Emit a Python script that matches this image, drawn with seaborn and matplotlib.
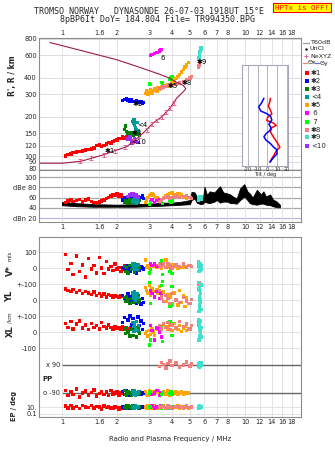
import numpy as np
import pandas as pd
import matplotlib
matplotlib.use("Agg")
import matplotlib.pyplot as plt
from matplotlib.lines import Line2D
from matplotlib.ticker import NullLocator
import seaborn as sns

sns.set_style("white")
plt.rcParams['font.family'] = ['DejaVu Sans']

# --- axes ticks
freq_ticks = [1, 1.6, 2, 3, 4, 5, 6, 7, 8, 10, 12, 14, 16, 18]
freq_labels = ["1", "1.6", "2", "3", "4", "5", "6", "7", "8", "10", "12", "14", "16", "18"]
range_ticks = [80, 90, 100, 120, 150, 200, 300, 400, 600, 800]
db_ticks = [20, 40, 60, 80, 100]
db_labels = ["dBn 20", "40", "60", "dBe 80", "100"]

# --- echo traces: freq (MHz), virtual range (km), amplitude (dB)
red_f = [1.05, 1.08, 1.12, 1.15, 1.2, 1.25, 1.3, 1.35, 1.4, 1.45, 1.5, 1.55, 1.6, 1.65,
         1.7, 1.75, 1.8, 1.85, 1.9, 1.95, 2.0, 2.05, 2.1, 2.15, 2.2, 2.25, 2.3, 2.38]
red_r = [100, 103, 104, 106, 107, 108, 109, 111, 112, 113, 115, 120, 122, 118,
         121, 124, 127, 126, 130, 132, 133, 136, 137, 140, 138, 141, 143, 147]
red_db = [50, 53, 55, 52, 54, 56, 51, 55, 57, 52, 50, 49, 51, 53,
          55, 58, 60, 63, 66, 64, 67, 62, 65, 60, 58, 57, 55, 54]
blue_f = [2.15, 2.2, 2.25, 2.3, 2.35, 2.4, 2.45, 2.5, 2.55, 2.6, 2.65, 2.7, 2.75, 2.8]
blue_r = [268, 272, 275, 270, 266, 270, 264, 262, 265, 260, 258, 262, 256, 258]
blue_db = [55, 60, 58, 62, 56, 60, 54, 58, 62, 57, 55, 60, 63, 58]
green_f = [2.2, 2.22, 2.25, 2.3, 2.35, 2.4, 2.45, 2.5, 2.55, 2.6, 2.62, 2.65]
green_r = [160, 170, 155, 150, 148, 152, 145, 150, 147, 152, 146, 145]
green_db = [50, 54, 52, 48, 55, 51, 53, 49, 56, 52, 50, 54]
teal_f = [2.45, 2.47, 2.48, 2.5, 2.52, 2.55, 2.58, 2.62]
teal_r = [185, 178, 190, 172, 165, 160, 182, 158]
teal_db = [52, 50, 55, 51, 54, 49, 53, 50]
orange_f = [2.85, 2.9, 2.95, 3.0, 3.05, 3.1, 3.15, 3.2, 3.3, 3.35, 3.4, 3.5, 3.6, 3.7,
            3.8, 3.9, 4.0, 4.1, 4.2, 4.3, 4.4, 4.5, 4.6, 4.7, 4.8, 4.9]
orange_r = [305, 318, 300, 312, 325, 305, 320, 330, 315, 335, 325, 340, 345, 350,
            355, 345, 365, 380, 395, 410, 425, 445, 465, 485, 505, 525]
orange_db = [50, 55, 60, 64, 66, 68, 65, 62, 60, 58, 56, 55, 60, 63,
             65, 68, 70, 66, 64, 67, 68, 65, 62, 60, 58, 60]
magenta_f = [3.05, 3.1, 3.2, 3.3, 3.4, 3.45, 3.5]
magenta_r = [598, 605, 615, 630, 645, 655, 660]
magenta_db = [52, 55, 50, 54, 56, 51, 53]
lime_f = [3.0, 3.05, 3.5, 3.55, 3.9, 3.95, 4.0]
lime_r = [360, 355, 370, 365, 390, 400, 410]
lime_db = [46, 50, 52, 48, 55, 50, 53]
salmon_f = [3.4, 3.5, 3.6, 3.7, 3.8, 3.9, 4.0, 4.2, 4.4, 4.6, 4.8, 5.0, 5.1, 5.55, 5.6, 5.65]
salmon_r = [330, 335, 340, 345, 350, 352, 350, 355, 365, 375, 390, 400, 410, 485, 500, 520]
salmon_db = [52, 55, 58, 60, 62, 58, 60, 63, 60, 62, 64, 60, 58, 56, 60, 58]
turq_f = [5.58, 5.6, 5.62, 5.62, 5.64, 5.65, 5.66, 5.68, 5.7, 5.72, 5.74, 5.75]
turq_r = [560, 575, 590, 570, 610, 620, 600, 640, 650, 680, 665, 690]
turq_db = [55, 60, 62, 58, 57, 61, 59, 56, 60, 58, 62, 57]
purple_f = [2.3, 2.35, 2.4, 2.42, 2.45, 2.5, 2.55, 2.6]
purple_r = [135, 140, 132, 125, 128, 136, 130, 127]
purple_db = [62, 66, 68, 64, 67, 63, 65, 61]

# --- velocity (m/s), YL / XL (km), polarization and EP (deg)
red_v = [85, -10, 30, -40, 75, -20, 20, -55, 60, -5, 15, -30, 65, 0,
         -35, 40, -5, 10, -15, 25, -5, 5, -20, 0, 15, -10, 5, -3]
red_yl = [70, 60, 55, 65, 48, 58, 40, 52, 45, 35, 50, 30, 42, 25,
          38, 20, 35, 28, 15, 30, 22, 18, 30, 25, 15, 22, 18, 12]
red_xl = [55, 30, 65, 20, 50, 70, 25, 45, 15, 55, 30, 40, 20, 60,
          35, 25, 45, 30, 15, 35, 25, 30, 20, 35, 25, 30, 20, 28]
red_pp = [-80, -100, -85, -95, -75, -105, -90, -82, -98, -88, -78, -102, -92, -84,
          -96, -86, -100, -80, -94, -90, -84, -98, -88, -92, -96, -86, -90, -94]
red_ep = [20, 5, 30, 6, 15, 4, 25, 10, 7, 28, 5, 14, 10, 3,
          22, 8, 12, 6, 4, 16, 9, 3, 6, 12, 4, 8, 6, 11]
blue_v = [5, -10, 15, 0, -20, 10, -5, 20, -30, 5, -15, 10, 0, -5]
blue_yl = [30, 10, -10, 40, 20, -5, 35, 15, -20, 25, 5, -25, 10, -15]
blue_xl = [60, 90, 30, 75, 100, 45, 85, 20, 65, 95, 40, 70, 15, 55]
blue_pp = [-85, -95, -80, -100, -90, -88, -92, -84, -96, -90, -86, -94, -88, -92]
blue_ep = [10, 5, 20, 6, 14, 10, 4, 25, 7, 12, 5, 16, 8, 10]
green_v = [10, -20, 5, -30, 15, -10, 0, -25, 20, -5, -15, 5]
green_yl = [15, -10, 20, 0, -20, 10, -15, 5, -5, 18, -12, 0]
green_xl = [20, -10, 30, 0, -25, 15, -20, 10, -30, 25, 5, -5]
green_pp = [-80, -95, -100, -85, -90, -98, -82, -92, -88, -96, -84, -90]
green_ep = [8, 15, 5, 20, 10, 4, 25, 7, 12, 16, 6, 10]
teal_v = [25, 10, -5, 30, 0, 15, -10, 20]
teal_yl = [45, 30, 10, 50, 0, 25, 40, 15]
teal_xl = [60, 35, 5, 50, 20, 65, 10, 40]
teal_pp = [-85, -95, -90, -80, -100, -88, -92, -86]
teal_ep = [10, 6, 18, 5, 22, 10, 7, 14]
orange_v = [50, 5, 15, 0, 20, 10, 8, 25, 5, 15, 12, 0, 18, 50,
            10, 5, 20, 8, 15, 0, 10, 5, 12, 3, 8, 15]
orange_yl = [80, 60, 45, 90, 30, 70, 55, 20, 65, 40, 85, 10, 50, -10,
             35, 20, -25, 45, 5, -30, 60, -15, 25, -40, 15, -20]
orange_xl = [-10, 5, -25, 10, -15, 20, 0, -20, 30, 15, 40, 25, 50, 35,
             20, 45, 10, 55, 30, 15, 40, 5, 25, 35, 10, 20]
orange_pp = [-85, -95, -100, -80, -90, -92, -84, -96, -88, -82, -98, -90, -86, -94,
             -80, -100, -88, -92, -84, -96, -90, -86, -94, -88, -92, -90]
orange_ep = [10, 5, 20, 6, 14, 4, 10, 25, 7, 5, 16, 10, 20, 7,
             10, 5, 14, 7, 10, 22, 5, 10, 7, 15, 10, 6]
magenta_v = [30, 15, 25, 10, 20, 28, 12]
magenta_yl = [60, 40, 20, 55, 10, 45, 30]
magenta_xl = [40, 10, -50, 25, 0, 35, -30]
magenta_pp = [-85, -95, -90, -80, -100, -88, -92]
magenta_ep = [7, 20, 5, 10, 15, 25, 6]
lime_v = [-30, -10, 45, -40, -20, 0, -35]
lime_yl = [110, -20, 90, 115, -40, -30, 85]
lime_xl = [-80, -50, 30, -60, 65, 50, -20]
lime_pp = [-90, -85, -95, -88, -92, -86, -94]
lime_ep = [10, 15, 6, 20, 5, 10, 14]
salmon_v = [20, 10, 25, 5, 30, 15, 0, 20, 10, 25, 5, 15, 8, 20, 10, 30]
salmon_yl = [60, 20, -10, 30, 10, -20, 40, 0, -15, 15, -5, -20, 5, 100, 70, 110]
salmon_xl = [40, 20, 55, 30, 60, 15, 45, 25, 65, 35, 50, 20, 40, 60, 45, 30]
salmon_pp = [85, 100, 92, 78, 95, 105, 88, 98, 82, 90, 102, 86, 94, 90, 84, 96]
salmon_ep = [10, 7, 15, 5, 20, 10, 6, 14, 10, 5, 22, 7, 10, 15, 6, 10]
turq_v = [40, -20, 20, 0, 30, -10, 10, -15, 5, 25, -5, 15]
turq_yl = [110, -70, 60, -30, 20, -50, 80, 0, 40, -15, 95, -60]
turq_xl = [80, -50, 40, -20, 60, -40, 10, 20, 70, -5, 30, -30]
turq_pp = [85, 95, 90, 80, 100, 88, 92, 86, 94, 84, 98, 90]
turq_ep = [10, 15, 6, 20, 10, 5, 14, 10, 7, 18, 10, 13]

# --- model plasma profile and Ne points
prof_f = [0.86, 1.0, 1.3, 1.6, 2.0, 2.5, 3.0, 3.4, 3.8, 4.2, 4.6, 4.75, 4.6, 4.23,
          3.9, 3.5, 3.14, 2.77, 2.5, 2.26, 1.95, 1.68, 1.27, 1.0, 0.75]
prof_r = [750, 711, 646, 599, 552, 497, 455, 428, 403, 372, 350, 330, 313, 279,
          235, 200, 179, 150, 132, 118, 110, 102, 91, 88, 88]
ne_f = [1.25, 1.45, 1.7, 1.95, 2.2, 2.45, 2.65, 2.9, 3.1, 3.3, 3.5, 3.7, 3.9, 4.1]
ne_r = [91, 96, 102, 110, 117, 130, 142, 160, 176, 188, 200, 217, 235, 258]

# --- tilt inset
tilt_x_h = [279, 262, 243, 226, 211, 198, 188, 180, 172, 166, 154, 141, 125, 117, 110, 102, 96, 90]
tilt_x = [3, 2.4, 0.9, 3, 4.5, 0, -0.6, 6, 9, 4.5, 3, 6, 10.6, 12.7, 9, 6.7, 4.5, 3]
tilt_y_h = [279, 257, 239, 222, 214, 204, 190, 176, 166, 157, 149, 141, 133, 125, 118, 112, 104, 97, 90]
tilt_y = [-3.6, -6, -9, -6.7, -1.5, 3, 4.5, 1.5, 3.6, 2.4, -1.5, -3.6, -1.5, 3, 6, 9.7, 9.7, 6, 2.4]

# --- noise floor (black band in dB panel)
noise_f = [1.0, 1.2, 1.5, 2.0, 2.5, 3.0, 3.5, 4.0, 4.5, 5.0, 5.1, 5.3, 5.45, 5.7, 5.9, 6.0,
           6.2, 6.4, 6.8, 7.0, 7.3, 7.6, 8.0, 8.3, 8.6, 9.0, 9.4, 9.9, 10.3, 10.6, 11.0,
           11.6, 12.2, 12.6, 13.0, 13.7, 14.2, 14.9, 15.5]
noise_lo = [45, 43, 42, 42, 42, 43, 44, 45, 46, 47, 55, 58, 50, 47, 48, 52,
            50, 49, 52, 55, 50, 52, 52, 49, 49, 48, 55, 62, 55, 49, 47,
            46, 48, 48, 46, 45, 43, 41, 41]
noise_hi = [51, 49, 47, 46, 47, 48, 50, 50, 52, 55, 71, 70, 62, 52, 60, 81,
            65, 72, 70, 75, 82, 70, 68, 66, 62, 58, 78, 86, 72, 68, 60,
            75, 66, 72, 62, 66, 56, 52, 46]

names = ["*1", "*2", "*3", "<4", "*5", "6", "7", "*8", "*9", "<10"]
legend_names = ["\u27311", "\u27312", "\u27313", "<4", "\u27315", " 6", " 7", "\u27318", "\u27319", "<10"]
colors = ["#ff0000", "#0000ff", "#008000", "#009a9a", "#ffa500", "#ff00ff",
          "#00ff00", "#f08080", "#40e0d0", "#9b30ff"]
palette = dict(zip(names, colors))

all_f = [red_f, blue_f, green_f, teal_f, orange_f, magenta_f, lime_f, salmon_f, turq_f, purple_f]
all_r = [red_r, blue_r, green_r, teal_r, orange_r, magenta_r, lime_r, salmon_r, turq_r, purple_r]
all_db = [red_db, blue_db, green_db, teal_db, orange_db, magenta_db, lime_db, salmon_db, turq_db, purple_db]
all_v = [red_v, blue_v, green_v, teal_v, orange_v, magenta_v, lime_v, salmon_v, turq_v]
all_yl = [red_yl, blue_yl, green_yl, teal_yl, orange_yl, magenta_yl, lime_yl, salmon_yl, turq_yl]
all_xl = [red_xl, blue_xl, green_xl, teal_xl, orange_xl, magenta_xl, lime_xl, salmon_xl, turq_xl]
all_pp = [red_pp, blue_pp, green_pp, teal_pp, orange_pp, magenta_pp, lime_pp, salmon_pp, turq_pp]
all_ep = [red_ep, blue_ep, green_ep, teal_ep, orange_ep, magenta_ep, lime_ep, salmon_ep, turq_ep]

echo = pd.concat([pd.DataFrame({"trace": n, "f": f, "R": r, "dB": d})
                  for n, f, r, d in zip(names, all_f, all_r, all_db)], ignore_index=True)

# bottom panel rows (stacked on one axis)
YL_ROW, XL_ROW, X_ROW, O_ROW, EP_ROW = -200, -400, -606, -781, -869
rows = []
for n, f, v, yl, xl, pp, ep in zip(names, all_f, all_v, all_yl, all_xl, all_pp, all_ep):
    pp = np.array(pp, float)
    pp_y = np.where(pp > 0, X_ROW + (pp - 90) * 1.6, O_ROW + (pp + 90) * 1.6)
    ep_y = EP_ROW + np.log10(np.array(ep, float) / 10) * 21.5
    for y in [np.array(v), np.array(yl) + YL_ROW, np.array(xl) + XL_ROW, pp_y, ep_y]:
        rows.append(pd.DataFrame({"trace": n, "f": f, "y": y}))
bottom = pd.concat(rows, ignore_index=True)

W, H = 335, 451
fig = plt.figure(figsize=(W / 100, H / 100), dpi=100)


def box(x0, y0, x1, y1):
    return [x0 / W, 1 - y1 / H, (x1 - x0) / W, (y1 - y0) / H]


ax = fig.add_axes(box(39, 38, 301, 170))
axd = fig.add_axes(box(39, 170, 301, 222))
axb = fig.add_axes(box(39, 237, 301, 417))

for a in (ax, axd, axb):
    a.set_xscale("log")
    a.set_xlim(0.75, 20.2)
    a.set_xticks(freq_ticks, freq_labels)
    a.xaxis.set_minor_locator(NullLocator())
    a.yaxis.set_minor_locator(NullLocator())
    a.tick_params(length=0, labelsize=4.8, pad=1.5)
    a.grid(True, axis="x", color="#dedede", lw=0.6)
    a.set_axisbelow(True)
    for s in a.spines.values():
        s.set_color("#8c8c8c")
        s.set_linewidth(0.8)

# main ionogram
ax.set_yscale("log")
ax.set_ylim(78, 813)
ax.set_yticks(range_ticks, [str(t) for t in range_ticks])
ax.yaxis.set_minor_locator(NullLocator())
ax.grid(True, axis="y", color="#d8d8d8", lw=0.6)
ax.tick_params(labeltop=True, labelbottom=False)
ax.plot(prof_f, prof_r, color="#a01848", lw=0.8)
ax.errorbar(ne_f, ne_r, yerr=np.array(ne_r) * 0.035, fmt="none", ecolor="#e0508a",
            elinewidth=0.6, capsize=1.2, capthick=0.6)
sns.scatterplot(data=echo, x="f", y="R", hue="trace", palette=palette, marker="s",
                s=6, linewidth=0, legend=False, ax=ax)
ax.set_xlabel("")
ax.set_ylabel("")
trace_labels = [("\u27311", 1.83, 109), ("\u27312", 2.6, 252), ("<4", 2.74, 173),
                ("\u27313", 2.57, 150), ("<10", 2.62, 128), ("6", 3.56, 570),
                ("\u27315", 4.04, 347), ("\u27318", 4.82, 365), ("\u27319", 5.82, 531)]
for t, fx, ry in trace_labels:
    ax.text(fx, ry, t, fontsize=5, ha="center", va="center", color="black")

# tilt inset
axt = fig.add_axes(box(242, 65, 288, 166))
axt.set_xlim(-26, 21)
axt.set_yscale("log")
axt.set_ylim(84, 503)
axt.set_yticks([])
axt.yaxis.set_minor_locator(NullLocator())
axt.set_xticks([-20, -10, 0, 10, 20], ["-20", "-10", "0", "10", "20"])
axt.tick_params(length=0, labelsize=3.6, pad=1)
axt.grid(True, axis="x", color="#a8a8b8", lw=0.6)
for s in axt.spines.values():
    s.set_color("#a8a8b8")
    s.set_linewidth(0.8)
axt.plot(tilt_x, tilt_x_h, color="#ff0000", lw=1.1)
axt.plot(tilt_y, tilt_y_h, color="#0000ff", lw=1.1)
axt.set_xlabel("Tilt / deg", fontsize=3.6, labelpad=0)

# amplitude panel
axd.set_ylim(12.2, 113.7)
axd.set_yticks(db_ticks, db_labels)
for t in db_ticks:
    axd.axhline(t, color="#b8b8e8" if t == 20 else "#a8a8a8", lw=0.9, zorder=0)
axd.fill_between(noise_f, noise_lo, noise_hi, color="black", lw=0.6, edgecolor="black")
sns.scatterplot(data=echo, x="f", y="dB", hue="trace", palette=palette, marker="s",
                s=6, linewidth=0, legend=False, ax=axd)
axd.set_xlabel("")
axd.set_ylabel("")

# velocity / location / polarization panel
axb.set_ylim(-931, 194)
axb.set_yticks([100, 0, -100, -200, -300, -400, -500, EP_ROW, -912],
               ["100", "0", "+-100", "0", "+-100", "0", "-100", "10.", "0.1"])
axb.grid(True, axis="y", color="#dedede", lw=0.6)
axb.hlines([X_ROW, O_ROW], 1.0, 20.2, color="#666666", lw=1.0, zorder=1)
sns.scatterplot(data=bottom, x="f", y="y", hue="trace", palette=palette, marker="s",
                s=6, linewidth=0, legend=False, ax=axb, zorder=3)
axb.set_ylabel("")
axb.set_xlabel("Radio and Plasma Frequency / MHz", fontsize=5, labelpad=8)
axb.text(0.98, X_ROW, "x 90", fontsize=4.8, ha="right", va="center")
axb.text(0.98, O_ROW, "o -90", fontsize=4.8, ha="right", va="center")
axb.text(0.78, -694, "PP", fontsize=5, ha="left", va="center", fontweight="bold")

# side labels
fig.text(12 / W, 1 - 76 / H, "R', R / km", rotation=90, fontsize=5.5, fontweight="bold",
         ha="center", va="center")
fig.text(10 / W, 1 - 270 / H, "V*", rotation=90, fontsize=6, fontweight="bold", ha="center", va="center")
fig.text(10 / W, 1 - 256 / H, "m/s", rotation=90, fontsize=4, ha="center", va="center")
fig.text(10 / W, 1 - 296 / H, "YL", rotation=90, fontsize=6, fontweight="bold", ha="center", va="center")
fig.text(10 / W, 1 - 318 / H, "/km", rotation=90, fontsize=4, ha="center", va="center")
fig.text(10 / W, 1 - 331 / H, "XL", rotation=90, fontsize=6, fontweight="bold", ha="center", va="center")
fig.text(14 / W, 1 - 406 / H, "EP / deg", rotation=90, fontsize=4.8, fontweight="bold",
         ha="center", va="center")

# header
fig.text(149 / W, 1 - 12 / H, "TROMSO NORWAY   DYNASONDE 26-07-03 1918UT 15\u00b0E",
         family="DejaVu Sans Mono", fontsize=6, ha="center", va="center")
fig.text(157 / W, 1 - 20 / H, "8pBP6It DoY= 184.804 File= TR994350.BPG",
         family="DejaVu Sans Mono", fontsize=6, ha="center", va="center")
fig.text(302 / W, 1 - 7.5 / H, "HPTx is OFF!", family="DejaVu Sans Mono", fontsize=5.4,
         color="#ff0000", ha="center", va="center",
         bbox=dict(boxstyle="square,pad=0.25", fc="#ffff00", ec="#ff0000", lw=0.8))

# legend at right
def fline(x0, x1, y, **kw):
    fig.add_artist(Line2D([x0 / W, x1 / W], [1 - y / H, 1 - y / H], transform=fig.transFigure, **kw))


fline(303, 309, 43, color="#a0a0a0", lw=1.0)
fig.text(310 / W, 1 - 43 / H, "T60dB", fontsize=4.6, va="center")
fig.add_artist(Line2D([306 / W], [1 - 49 / H], marker=".", ms=1.5, color="black", transform=fig.transFigure))
fig.text(310 / W, 1 - 49 / H, "UnCl", fontsize=4.6, va="center")
fig.add_artist(Line2D([306 / W], [1 - 56 / H], marker="+", ms=3, mew=0.6, color="#e0508a",
                      transform=fig.transFigure))
fig.text(310 / W, 1 - 56 / H, "NeXYZ", fontsize=4.6, va="center")
fline(303, 307, 63, color="#f08080", lw=0.9)
fig.text(307.5 / W, 1 - 63 / H, "\u0398x", fontsize=4.6, va="center")
fline(315, 319, 63, color="#6070ff", lw=0.9)
fig.text(319.5 / W, 1 - 63 / H, "\u0398y", fontsize=4.6, va="center")
leg_y = [73, 81, 89, 97, 105, 113, 122, 130, 137, 146]
for lab, c, yy in zip(legend_names, colors, leg_y):
    fig.add_artist(Line2D([307 / W], [1 - yy / H], marker="s", ms=2.4, mew=0, color=c,
                          transform=fig.transFigure))
    fig.text(311 / W, 1 - yy / H, lab, fontsize=5, va="center")

fig.savefig("out.png", dpi=100)
